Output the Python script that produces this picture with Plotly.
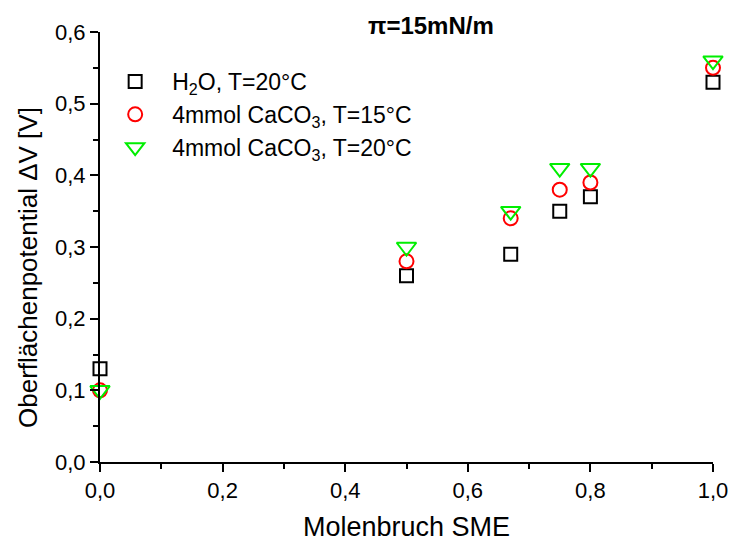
import plotly.graph_objects as go

x_vals = [0.0, 0.5, 0.67, 0.75, 0.8, 1.0]
h2o_20 = [0.13, 0.26, 0.29, 0.35, 0.37, 0.53]
caco3_15 = [0.10, 0.28, 0.34, 0.38, 0.39, 0.55]
caco3_20 = [0.10, 0.30, 0.35, 0.41, 0.41, 0.56]
names = ["H<sub>2</sub>O, T=20°C",
         "4mmol CaCO<sub>3</sub>, T=15°C",
         "4mmol CaCO<sub>3</sub>, T=20°C"]
tick_vals_x = [0.0, 0.2, 0.4, 0.6, 0.8, 1.0]
tick_vals_y = [0.0, 0.1, 0.2, 0.3, 0.4, 0.5, 0.6]

FONT = "Arial, Liberation Sans, sans-serif"

fig = go.Figure()
fig.add_trace(go.Scatter(x=x_vals, y=h2o_20, mode="markers", name=names[0],
                         marker=dict(symbol="square-open", size=13, color="black",
                                     line=dict(width=2, color="black")),
                         cliponaxis=False))
fig.add_trace(go.Scatter(x=x_vals, y=caco3_15, mode="markers", name=names[1],
                         marker=dict(symbol="circle-open", size=14, color="#ff0000",
                                     line=dict(width=2, color="#ff0000")),
                         cliponaxis=False))
fig.add_trace(go.Scatter(x=x_vals, y=caco3_20, mode="markers", name=names[2],
                         marker=dict(symbol="triangle-down-open", size=17, color="#00ee00",
                                     line=dict(width=2, color="#00ee00")),
                         cliponaxis=False))

fig.update_layout(
    width=731, height=543,
    margin=dict(l=100, r=18, t=32, b=81, autoexpand=False),
    paper_bgcolor="white", plot_bgcolor="white",
    separators=", ",
    font=dict(family=FONT, size=22, color="black"),
    showlegend=True,
    legend=dict(x=-0.003, y=0.935, xanchor="left", yanchor="top",
                bgcolor="rgba(0,0,0,0)", font=dict(size=23, family=FONT),
                itemwidth=64, tracegroupgap=0),
    annotations=[
        dict(text="<b>π=15mN/m</b>", x=(431 - 100) / 613, y=1.0,
             xref="paper", yref="paper", xanchor="center", yanchor="middle",
             yshift=7, showarrow=False, font=dict(size=24, family=FONT)),
        dict(text="Oberflächenpotential ΔV [V]", x=(28 - 100) / 613, y=(462 - 268) / 430,
             xref="paper", yref="paper", xanchor="center", yanchor="middle",
             textangle=-90, showarrow=False, font=dict(size=26, family=FONT)),
        dict(text="Molenbruch SME", x=(407 - 100) / 613, y=(462 - 527) / 430,
             xref="paper", yref="paper", xanchor="center", yanchor="middle",
             showarrow=False, font=dict(size=27, family=FONT)),
    ],
)

fig.update_xaxes(
    range=[0, 1.0], tickvals=tick_vals_x, tickformat=".1f", automargin=False,
    showgrid=False, zeroline=False, showline=True, linecolor="black", linewidth=2,
    ticks="outside", ticklen=8, tickwidth=2, tickcolor="black",
    minor=dict(tickvals=[0.1, 0.3, 0.5, 0.7, 0.9], ticks="outside", ticklen=5,
               tickwidth=2, tickcolor="black", showgrid=False),
    tickfont=dict(size=22, family=FONT),
)
fig.update_yaxes(
    range=[0, 0.6], tickvals=tick_vals_y, tickformat=".1f", automargin=False,
    showgrid=False, zeroline=False, showline=True, linecolor="black", linewidth=2,
    ticks="outside", ticklen=8, tickwidth=2, tickcolor="black",
    minor=dict(tickvals=[0.05, 0.15, 0.25, 0.35, 0.45, 0.55], ticks="outside", ticklen=5,
               tickwidth=2, tickcolor="black", showgrid=False),
    tickfont=dict(size=22, family=FONT),
)

fig.write_html("out.html")
